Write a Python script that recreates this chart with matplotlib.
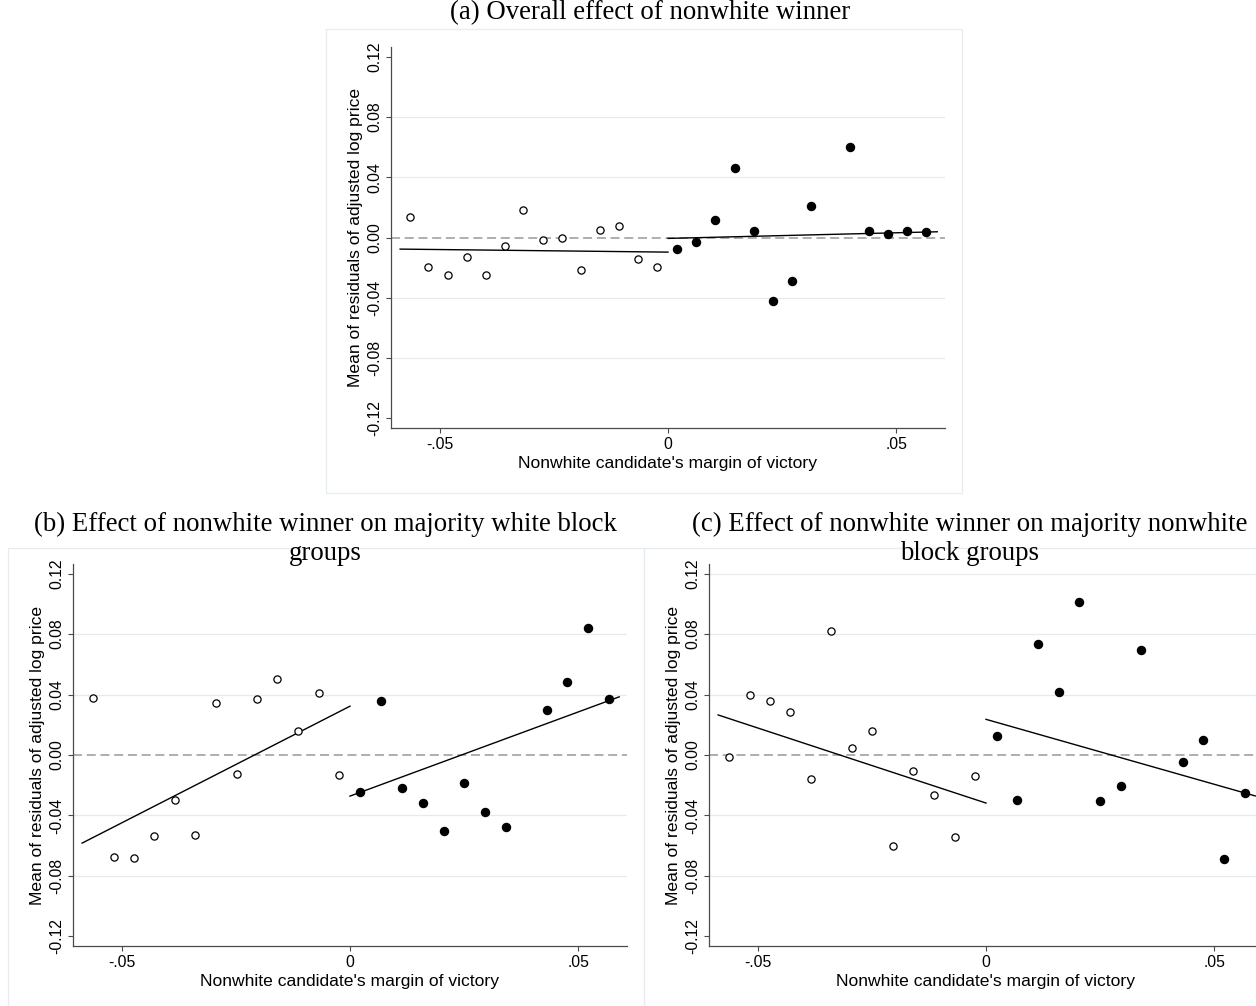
import numpy as np
import matplotlib.pyplot as plt
from matplotlib.patches import Rectangle

plt.rcParams['font.family'] = 'Liberation Sans'
plt.rcParams['axes.unicode_minus'] = False

# --- binned means of residuals (open = nonwhite loses, filled = nonwhite wins) ---

# (a) all block groups
a_lose_x = [-0.0566, -0.0525, -0.0483, -0.0441, -0.0399, -0.0358, -0.0317,
            -0.0274, -0.0233, -0.0191, -0.0149, -0.0108, -0.0066, -0.0025]
a_lose_y = [0.0139, -0.0197, -0.0252, -0.0130, -0.0252, -0.0057, 0.0183,
            -0.0018, 0.0000, -0.0217, 0.0049, 0.0075, -0.0141, -0.0197]
a_win_x = [0.0020, 0.0062, 0.0104, 0.0146, 0.0188, 0.0229, 0.0272,
           0.0314, 0.0398, 0.0440, 0.0481, 0.0524, 0.0565]
a_win_y = [-0.0077, -0.0033, 0.0115, 0.0464, 0.0042, -0.0424, -0.0287,
           0.0210, 0.0601, 0.0042, 0.0022, 0.0046, 0.0038]
a_fit_lose = [-0.0077, -0.0097]
a_fit_win = [-0.0006, 0.0038]

# (b) majority white block groups
b_lose_x = [-0.0563, -0.0518, -0.0474, -0.0429, -0.0384, -0.0339, -0.0293,
            -0.0248, -0.0204, -0.0159, -0.0114, -0.0069, -0.0024]
b_lose_y = [0.0378, -0.0676, -0.0683, -0.0539, -0.0301, -0.0530, 0.0345,
            -0.0124, 0.0373, 0.0502, 0.0159, 0.0411, -0.0135]
b_win_x = [0.0023, 0.0069, 0.0114, 0.0160, 0.0205, 0.0250, 0.0295,
           0.0341, 0.0431, 0.0476, 0.0521, 0.0567]
b_win_y = [-0.0248, 0.0356, -0.0219, -0.0320, -0.0502, -0.0188, -0.0380,
           -0.0477, 0.0296, 0.0486, 0.0838, 0.0369]
b_fit_lose = [-0.0583, 0.0323]
b_fit_win = [-0.0272, 0.0385]

# (c) majority nonwhite block groups
c_lose_x = [-0.0564, -0.0518, -0.0474, -0.0429, -0.0384, -0.0339, -0.0294,
            -0.0249, -0.0204, -0.0160, -0.0114, -0.0068, -0.0024]
c_lose_y = [-0.0011, 0.0400, 0.0360, 0.0287, -0.0157, 0.0818, 0.0049,
            0.0159, -0.0599, -0.0106, -0.0267, -0.0541, -0.0141]
c_win_x = [0.0024, 0.0068, 0.0114, 0.0160, 0.0204, 0.0250, 0.0296,
           0.0340, 0.0432, 0.0476, 0.0521, 0.0567]
c_win_y = [0.0124, -0.0301, 0.0734, 0.0418, 0.1012, -0.0305, -0.0203,
           0.0694, -0.0046, 0.0097, -0.0687, -0.0250]
c_fit_lose = [0.0265, -0.0318]
c_fit_win = [0.0236, -0.0271]

fit_x_lose = [-0.0587, 0.0]
fit_x_win = [0.0, 0.0590]

yticks = [-0.12, -0.08, -0.04, 0.0, 0.04, 0.08, 0.12]
ytick_labels = ['-0.12', '-0.08', '-0.04', '0.00', '0.04', '0.08', '0.12']
xticks = [-0.05, 0.0, 0.05]
xtick_labels = ['-.05', '0', '.05']

# panel titles, one entry per wrapped line
titles_a = ['(a) Overall effect of nonwhite winner']
titles_b = ['(b) Effect of nonwhite winner on majority white block', 'groups']
titles_c = ['(c) Effect of nonwhite winner on majority nonwhite', 'block groups']

W, H = 1256, 1006
fig = plt.figure(figsize=(W / 100, H / 100), dpi=100)
fig.patch.set_facecolor('white')

GRID = '#e3ebef'
BOX = '#e6edf1'
SPINE = '#4a4a4a'


def px_axes(left, top, width, height):
    return fig.add_axes([left / W, 1 - (top + height) / H, width / W, height / H])


def px_box(left, top, width, height):
    fig.add_artist(Rectangle((left / W, 1 - (top + height) / H), width / W, height / H,
                             transform=fig.transFigure, fill=False, ec=BOX, lw=0.9))


def px_title(lines, cx, cy, step=29):
    for i, line in enumerate(lines):
        fig.text(cx / W, 1 - (cy + i * step) / H, line, family='Liberation Serif',
                 fontsize=19.3, ha='center', va='center')


def draw_panel(ax, lose_x, lose_y, win_x, win_y, fit_lose, fit_win, grid_levels):
    ax.set_xlim(-0.0607, 0.0607)
    ax.set_ylim(-0.1264, 0.1264)
    for g in grid_levels:
        ax.axhline(g, color=GRID, lw=0.9, zorder=0)
    ax.axhline(0, color='#a8a8a8', lw=1.3, dashes=(5, 2.6), zorder=1)
    ax.plot(fit_x_lose, fit_lose, color='black', lw=1.0, zorder=2)
    ax.plot(fit_x_win, fit_win, color='black', lw=1.0, zorder=2)
    ax.plot(lose_x, lose_y, 'o', ls='none', mfc='white', mec='black', ms=5.2, mew=0.9, zorder=3)
    ax.plot(win_x, win_y, 'o', ls='none', color='black', ms=5.8, zorder=3)

    for s in ['top', 'right']:
        ax.spines[s].set_visible(False)
    for s in ['left', 'bottom']:
        ax.spines[s].set_color(SPINE)
        ax.spines[s].set_linewidth(0.9)
    ax.set_xticks(xticks)
    ax.set_xticklabels(xtick_labels)
    ax.set_yticks(yticks)
    ax.set_yticklabels(ytick_labels, rotation=90, va='center')
    ax.tick_params(axis='both', length=3.5, width=0.8, color=SPINE, labelsize=11.3)
    ax.tick_params(axis='x', pad=3)
    ax.tick_params(axis='y', pad=3)
    ax.set_xlabel("Nonwhite candidate's margin of victory", fontsize=12.6, labelpad=3)
    ax.set_ylabel('Mean of residuals of adjusted log price', fontsize=12.6, labelpad=3)
    ax.patch.set_alpha(0)


# panel frames
px_box(326, 29, 636, 464)
px_box(8, 548, 636, 470)
px_box(644, 548, 636, 470)

ax_a = px_axes(391, 47, 554, 381)
draw_panel(ax_a, a_lose_x, a_lose_y, a_win_x, a_win_y, a_fit_lose, a_fit_win,
           [-0.08, -0.04, 0.04, 0.08])

ax_b = px_axes(73, 564, 554, 382)
draw_panel(ax_b, b_lose_x, b_lose_y, b_win_x, b_win_y, b_fit_lose, b_fit_win,
           [-0.08, -0.04, 0.04, 0.08])

ax_c = px_axes(709, 564, 554, 382)
draw_panel(ax_c, c_lose_x, c_lose_y, c_win_x, c_win_y, c_fit_lose, c_fit_win,
           [-0.08, -0.04, 0.04, 0.08, 0.12])

px_title(titles_a, 650, 13)
px_title(titles_b, 325, 524)
px_title(titles_c, 970, 524)

fig.savefig('out.png', dpi=100, facecolor='white')
